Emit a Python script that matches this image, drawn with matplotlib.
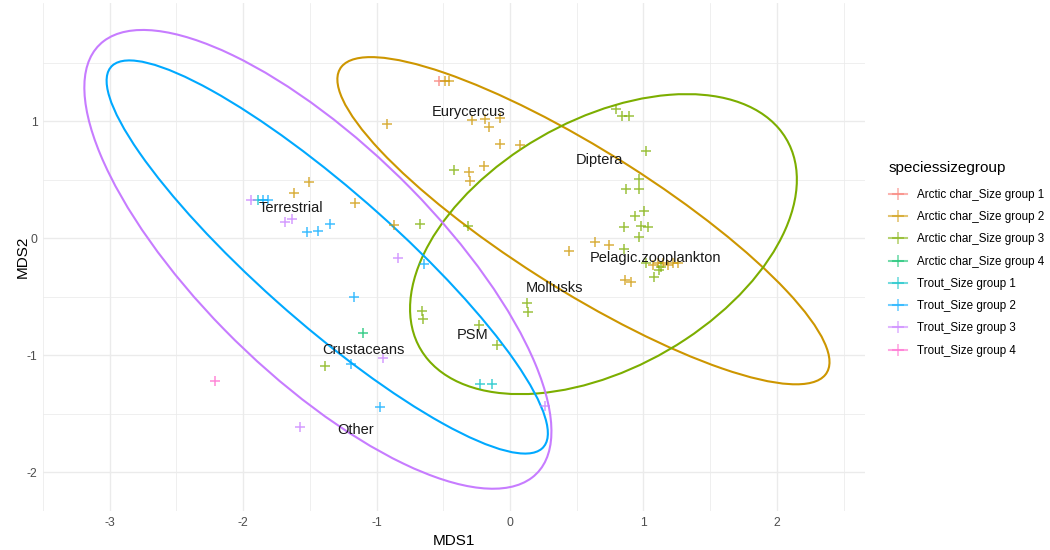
import matplotlib
matplotlib.use("Agg")
import matplotlib.pyplot as plt
from matplotlib.patches import Ellipse
from matplotlib.lines import Line2D

plt.rcParams["font.family"] = ["Liberation Sans", "DejaVu Sans"]
plt.rcParams["axes.unicode_minus"] = False

# ---- data -------------------------------------------------------------
groups = [
    "Arctic char_Size group 1", "Arctic char_Size group 2",
    "Arctic char_Size group 3", "Arctic char_Size group 4",
    "Trout_Size group 1", "Trout_Size group 2",
    "Trout_Size group 3", "Trout_Size group 4",
]
colors = ["#F8766D", "#CD9600", "#7CAE00", "#00BE67",
          "#00BFC4", "#00A9FF", "#C77CFF", "#FF61CC"]

ac1_x = [-0.530]
ac1_y = [1.344]

ac2_x = [-0.485, -0.455, -0.925, -0.284, -0.187, -0.157, -0.075, -0.075, 0.075,
         -0.194, -0.306, -0.299, -1.507, -1.619, -1.164, -0.866, 0.440, 0.634,
         0.739, 0.858, 0.910, 1.075, 1.112, 1.149, 1.187, 1.224, 1.261]
ac2_y = [1.344, 1.344, 0.976, 1.011, 1.019, 0.951, 1.028, 0.806, 0.798,
         0.618, 0.567, 0.490, 0.481, 0.387, 0.302, 0.114, -0.109, -0.032,
         -0.057, -0.356, -0.373, -0.228, -0.211, -0.211, -0.228, -0.211, -0.211]

ac3_x = [-0.418, -0.672, -0.313, 0.791, 0.836, 0.888, 1.022, 0.963, 0.866, 0.970,
         0.933, 1.007, 0.851, 0.985, 1.037, 0.963, 0.851, 1.022, 1.082, 1.119,
         1.134, 0.127, 0.134, -0.657, -0.649, -0.231, -0.097, -1.388]
ac3_y = [0.584, 0.123, 0.105, 1.105, 1.045, 1.045, 0.746, 0.507, 0.422, 0.422,
         0.191, 0.234, 0.097, 0.105, 0.097, 0.011, -0.092, -0.211, -0.331, -0.271,
         -0.245, -0.553, -0.630, -0.622, -0.690, -0.741, -0.912, -1.088]

ac4_x = [-1.104]
ac4_y = [-0.810]

tr1_x = [-0.224, -0.134, -1.888]
tr1_y = [-1.246, -1.246, 0.327]

tr2_x = [-1.851, -1.813, -1.522, -1.440, -1.351, -1.172, -1.194, -0.642, -0.978]
tr2_y = [0.327, 0.327, 0.054, 0.062, 0.122, -0.502, -1.075, -0.220, -1.443]

tr3_x = [-1.940, -1.687, -1.634, -0.836, -0.955, -1.575, 0.261]
tr3_y = [0.327, 0.139, 0.165, -0.169, -1.024, -1.613, -1.430]

tr4_x = [-2.209]
tr4_y = [-1.220]

group_x = [ac1_x, ac2_x, ac3_x, ac4_x, tr1_x, tr2_x, tr3_x, tr4_x]
group_y = [ac1_y, ac2_y, ac3_y, ac4_y, tr1_y, tr2_y, tr3_y, tr4_y]

# 95% ellipses: group index, centre x, centre y, semi-major, semi-minor, angle (deg)
ell_group = [1, 2, 5, 6]
ell_cx = [0.55, 0.70, -1.37, -1.44]
ell_cy = [0.15, -0.05, -0.16, -0.18]
ell_a = [2.24, 1.644, 2.295, 2.46]
ell_b = [0.58, 1.02, 0.536, 0.923]
ell_ang = [-36.0, 37.0, -45.5, -49.3]

# species (food item) scores
food_labels = ["Terrestrial", "Eurycercus", "Diptera", "Pelagic.zooplankton",
               "Mollusks", "PSM", "Crustaceans", "Other"]
food_x = [-1.642, -0.313, 0.672, 1.090, 0.336, -0.284, -1.097, -1.157]
food_y = [0.258, 1.079, 0.668, -0.168, -0.425, -0.827, -0.955, -1.639]

# ---- figure -----------------------------------------------------------
fig = plt.figure(figsize=(10.5, 5.5), dpi=100)
ax = fig.add_axes([43 / 1050, 1 - 511 / 550, (865 - 43) / 1050, (511 - 3) / 550])
ax.set_xlim(-3.47, 2.66)
ax.set_ylim(-2.33, 2.01)

for s in ax.spines.values():
    s.set_visible(False)
ax.set_xticks([-3, -2, -1, 0, 1, 2])
ax.set_yticks([-2, -1, 0, 1])
ax.set_xticks([-3.5, -2.5, -1.5, -0.5, 0.5, 1.5, 2.5], minor=True)
ax.set_yticks([-1.5, -0.5, 0.5, 1.5], minor=True)
ax.grid(True, which="major", color="#EBEBEB", lw=1.0)
ax.grid(True, which="minor", color="#EBEBEB", lw=0.55)
ax.set_axisbelow(True)
ax.tick_params(which="both", length=0, labelsize=8.8, labelcolor="#4D4D4D", pad=4)
ax.set_xlabel("MDS1", fontsize=11, labelpad=4)
ax.set_ylabel("MDS2", fontsize=11, labelpad=-2)

for gx, gy, c in zip(group_x, group_y, colors):
    ax.plot(gx, gy, linestyle="none", marker="+", ms=7, mew=1.1, color=c, alpha=0.75)

for g, cx, cy, a, b, ang in zip(ell_group, ell_cx, ell_cy, ell_a, ell_b, ell_ang):
    ax.add_patch(Ellipse((cx, cy), 2 * a, 2 * b, angle=ang, fill=False,
                         edgecolor=colors[g], lw=1.5))

for lab, x, y in zip(food_labels, food_x, food_y):
    ax.text(x, y, lab, ha="center", va="center", fontsize=10.5, color="#1A1A1A")

handles = [Line2D([0], [0], color=c, lw=1.5, marker="+", ms=8, mew=1.2, alpha=0.55)
           for c in colors]
leg = fig.legend(handles, groups, loc="upper left", bbox_to_anchor=(889 / 1050, 1 - 161 / 550),
                 frameon=False, fontsize=8.4, title="speciessizegroup", title_fontsize=11,
                 handlelength=1.5, handletextpad=0.9, labelspacing=0.88, borderaxespad=0,
                 borderpad=0)
leg._legend_box.align = "left"
leg._legend_box.sep = 10

fig.savefig("out.png", dpi=100)
